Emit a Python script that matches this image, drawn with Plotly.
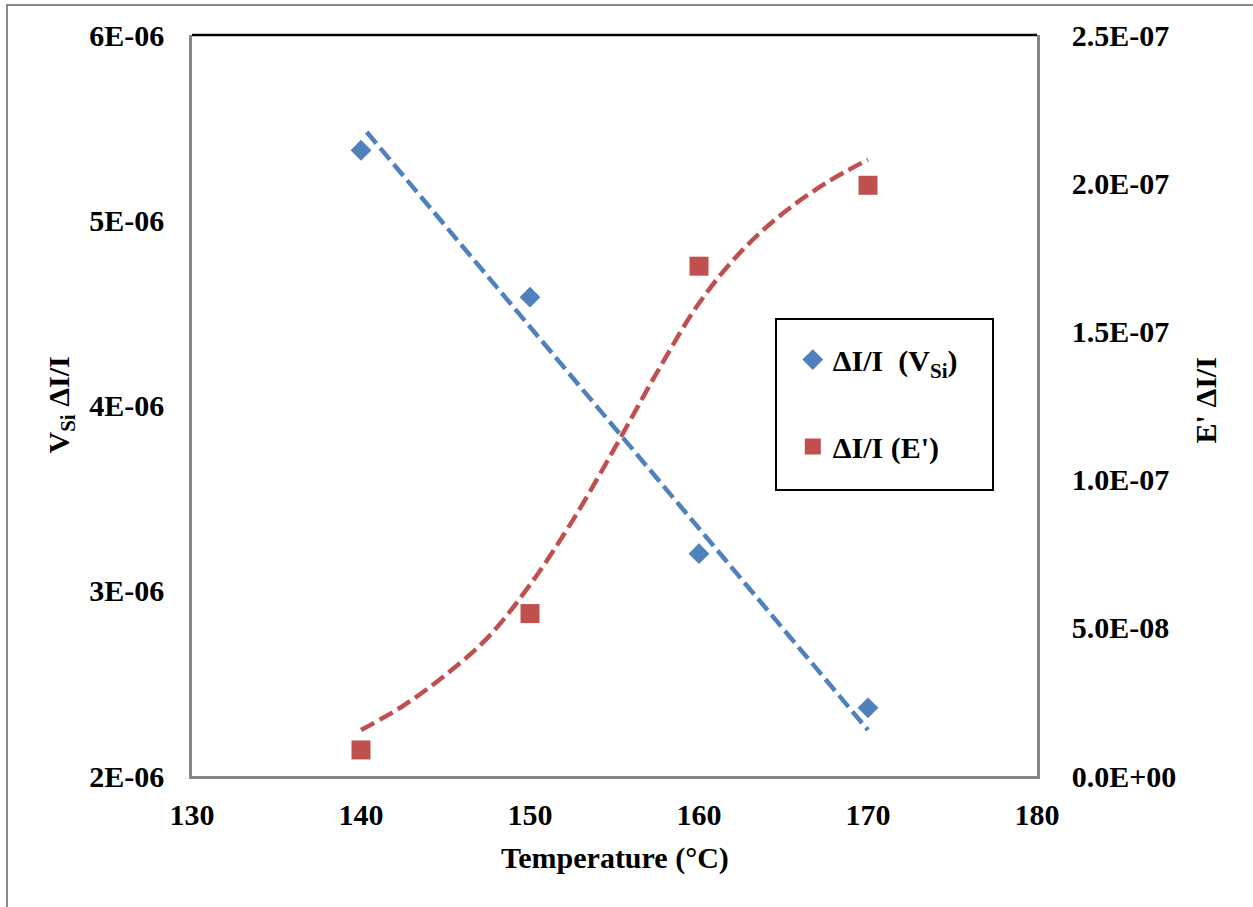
import plotly.graph_objects as go

# ---- data ----
temperature = [140, 150, 160, 170]
vsi_dii = [5.378e-6, 4.585e-6, 3.20e-6, 2.368e-6]
eprime_dii = [8.8e-9, 5.48e-8, 1.72e-7, 1.993e-7]

# trendlines
vsi_trend_x = [140.34, 170.0]
vsi_trend_y = [5.476e-6, 2.248e-6]
eprime_trend_x = [140.0, 142.5, 145.0, 147.5, 150.0, 152.5, 155.0,
                  157.5, 160.0, 162.5, 165.0, 167.5, 170.0]
eprime_trend_y = [1.55e-8, 2.37e-8, 3.41e-8, 4.67e-8, 6.45e-8, 8.60e-8, 1.105e-7,
                  1.36e-7, 1.595e-7, 1.77e-7, 1.90e-7, 2.00e-7, 2.08e-7]

x_ticks = [130, 140, 150, 160, 170, 180]
y_left_ticks = [2e-6, 3e-6, 4e-6, 5e-6, 6e-6]
y_left_labels = ["2E-06", "3E-06", "4E-06", "5E-06", "6E-06"]
y_right_ticks = [0, 5e-8, 1e-7, 1.5e-7, 2e-7, 2.5e-7]
y_right_labels = ["0.0E+00", "5.0E-08", "1.0E-07", "1.5E-07", "2.0E-07", "2.5E-07"]

BLUE = "#4F81BD"
RED = "#C0504D"
AXIS_GREY = "#868686"
FONT = "Liberation Serif, Times New Roman, serif"

fig = go.Figure()

fig.add_trace(go.Scatter(x=vsi_trend_x, y=vsi_trend_y, mode="lines",
                         line=dict(color=BLUE, width=4.5, dash="15px,6px"),
                         showlegend=False, hoverinfo="skip"))
fig.add_trace(go.Scatter(x=eprime_trend_x, y=eprime_trend_y, mode="lines", yaxis="y2",
                         line=dict(color=RED, width=4.5, dash="15px,6px", shape="spline"),
                         showlegend=False, hoverinfo="skip"))

fig.add_trace(go.Scatter(x=temperature, y=vsi_dii, mode="markers",
                         name="ΔI/I  (V<sub>Si</sub>)", legendgroup="a",
                         marker=dict(symbol="diamond", size=16, color=BLUE)))
fig.add_trace(go.Scatter(x=temperature, y=eprime_dii, mode="markers", yaxis="y2",
                         name="ΔI/I (E')", legendgroup="b",
                         marker=dict(symbol="square", size=19, color=RED)))

fig.update_layout(
    width=1253, height=907,
    margin=dict(l=192, r=216, t=35, b=131),
    paper_bgcolor="white", plot_bgcolor="white",
    font=dict(family=FONT, size=30, color="black", weight="bold"),
    xaxis=dict(range=[130, 180], tickvals=x_ticks, showgrid=False, zeroline=False,
               showline=True, linecolor=AXIS_GREY, linewidth=2.5, ticks="",
               ticklabelstandoff=10,
               tickfont=dict(family=FONT, size=30, weight="bold")),
    yaxis=dict(range=[2e-6, 6e-6], tickvals=y_left_ticks, ticktext=y_left_labels,
               showgrid=False, zeroline=False, showline=True, linecolor=AXIS_GREY,
               linewidth=2.5, ticks="", ticklabelstandoff=19,
               tickfont=dict(family=FONT, size=30, weight="bold")),
    yaxis2=dict(range=[0, 2.5e-7], tickvals=y_right_ticks, ticktext=y_right_labels,
                overlaying="y", side="right", showgrid=False, zeroline=False,
                showline=True, linecolor=AXIS_GREY, linewidth=2.5, ticks="",
                ticklabelstandoff=26,
                tickfont=dict(family=FONT, size=30, weight="bold")),
    legend=dict(x=0.711, y=0.597, xanchor="left", yanchor="top",
                bgcolor="rgba(0,0,0,0)", borderwidth=0,
                font=dict(family=FONT, size=30, weight="bold"),
                tracegroupgap=45, itemsizing="trace"),
    showlegend=True,
)

# axis titles
fig.add_annotation(text="Temperature (°C)", xref="paper", yref="paper", x=0.5, y=-0.1107,
                   xanchor="center", yanchor="middle", showarrow=False,
                   font=dict(family=FONT, size=30, weight="bold"))
fig.add_annotation(text="V<sub>Si</sub> ΔI/I", xref="paper", yref="paper", x=-0.1562, y=0.5,
                   xanchor="center", yanchor="middle", showarrow=False, textangle=-90,
                   font=dict(family=FONT, size=30, weight="bold"))
fig.add_annotation(text="E' ΔI/I", xref="paper", yref="paper", x=1.199, y=0.507,
                   xanchor="center", yanchor="middle", showarrow=False, textangle=-90,
                   font=dict(family=FONT, size=30, weight="bold"))

# top border of plot area (black)
fig.add_shape(type="line", xref="paper", yref="paper", x0=0, x1=1, y0=1, y1=1,
              line=dict(color="black", width=2.5))
# legend box
fig.add_shape(type="rect", xref="paper", yref="paper",
              x0=(776 - 192) / 845, x1=(993 - 192) / 845,
              y0=(776 - 490) / 741, y1=(776 - 319) / 741,
              line=dict(color="black", width=2), fillcolor="white", layer="below")
# outer chart border
fig.add_shape(type="rect", xref="paper", yref="paper",
              x0=(7 - 192) / 845, x1=(1260 - 192) / 845,
              y0=(776 - 915) / 741, y1=(776 - 5) / 741,
              line=dict(color="#898989", width=2), layer="below")

fig.write_html("out.html",
               config={"displayModeBar": False},
               post_script="document.body.style.margin='0';"
                           "document.documentElement.style.overflow='hidden';")
